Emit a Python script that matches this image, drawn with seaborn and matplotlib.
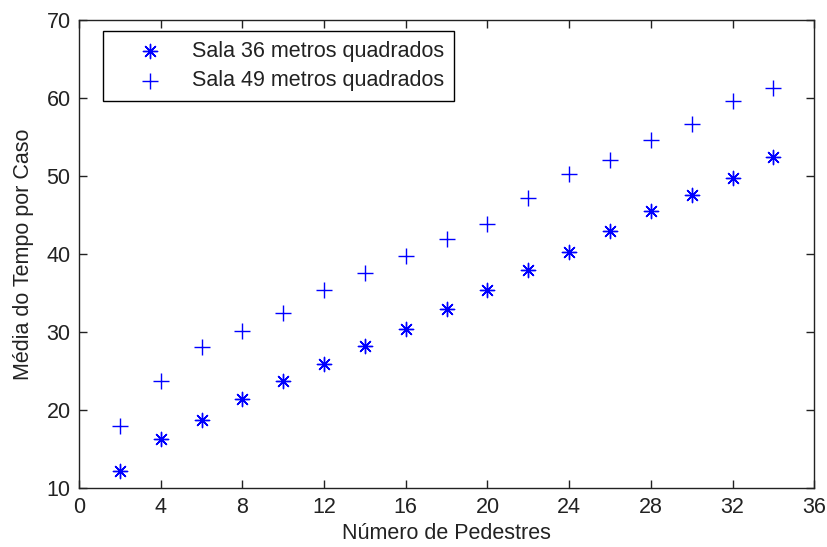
import pandas as pd
import matplotlib.pyplot as plt
import seaborn as sns

# Dados
pedestres = [2, 4, 6, 8, 10, 12, 14, 16, 18, 20, 22, 24, 26, 28, 30, 32, 34]
sala_36 = [12.2, 16.3, 18.7, 21.5, 23.7, 25.9, 28.2, 30.4, 33.0, 35.4,
           38.0, 40.3, 42.9, 45.5, 47.6, 49.8, 52.4]
sala_49 = [18.0, 23.7, 28.1, 30.2, 32.4, 35.4, 37.6, 39.8, 41.9, 43.9,
           47.2, 50.2, 52.0, 54.6, 56.6, 59.6, 61.2]
rotulos = ['Sala 36 metros quadrados', 'Sala 49 metros quadrados']

df = pd.DataFrame({'Pedestres': pedestres, 'Sala36': sala_36, 'Sala49': sala_49})

sns.set_style('ticks')
plt.rcParams['font.family'] = ['Liberation Sans', 'DejaVu Sans']
fs = 15.5

fig = plt.figure(figsize=(8.28, 5.47), dpi=100)
ax = fig.add_axes([0.0954, 0.107, 0.888, 0.857])

sns.scatterplot(data=df, x='Pedestres', y='Sala36', marker=(8, 2, 0), s=105,
                color='#0000ff', linewidth=1.0, label=rotulos[0], ax=ax)
sns.scatterplot(data=df, x='Pedestres', y='Sala49', marker='+', s=135,
                color='#0000ff', linewidth=1.0, label=rotulos[1], ax=ax)

ax.set_xlim(0, 36)
ax.set_ylim(10, 70)
ax.set_xticks(range(0, 37, 4))
ax.set_yticks(range(10, 71, 10))
ax.tick_params(direction='in', length=5.5, width=1, top=True, right=True,
               colors='#222222', labelcolor='#222222', labelsize=fs, pad=6)
for s in ax.spines.values():
    s.set_visible(True)
    s.set_color('#222222')
    s.set_linewidth(1)

ax.set_xlabel('Número de Pedestres', fontsize=fs, labelpad=4, color='#222222')
ax.set_ylabel('Média do Tempo por Caso', fontsize=fs, labelpad=9, color='#222222')

leg = ax.legend(loc='upper left', bbox_to_anchor=(103 / 828, 1 - 31 / 547),
                bbox_transform=fig.transFigure, fontsize=fs, frameon=True,
                fancybox=False, edgecolor='black', framealpha=1,
                handlelength=3.5, handletextpad=0.2, borderpad=0.45,
                labelspacing=0.4, borderaxespad=0)
leg.get_frame().set_linewidth(1)
for t in leg.get_texts():
    t.set_color('#222222')

fig.savefig('out.png', dpi=100)
plt.close()
